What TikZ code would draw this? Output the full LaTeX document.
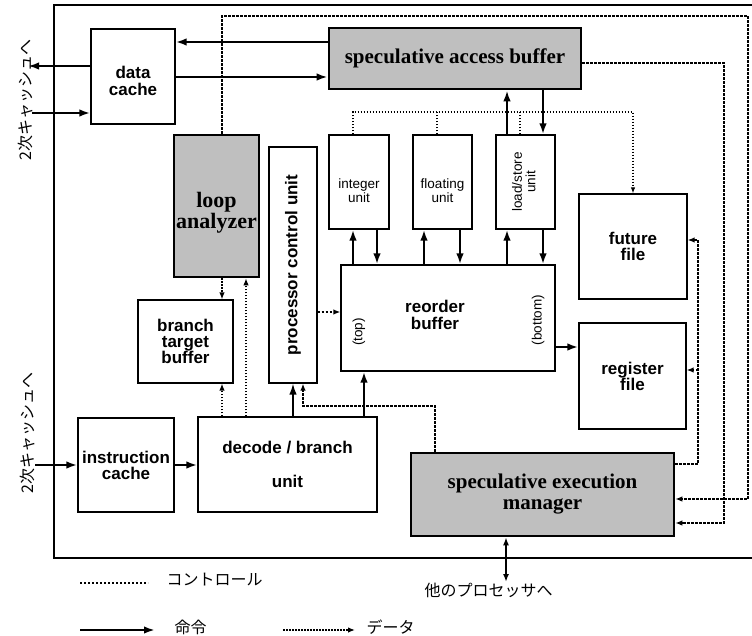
\documentclass[tikz,border=0pt]{standalone}
\usepackage{fontspec}
\setmainfont{Liberation Serif}
\setsansfont{Liberation Sans}
\newfontfamily\jpfont{Noto Sans CJK JP}
\usetikzlibrary{arrows.meta,calc}
\definecolor{screen}{gray}{0.75}
\newcommand{\lowtxt}[2]{\raisebox{-#1}[0pt][0pt]{\begin{tabular}{@{}c@{}}#2\end{tabular}}}

\begin{document}
\begin{tikzpicture}[x=1pt,y=-1pt,
  blk/.style={rectangle,draw,line width=1.2pt,fill=white,inner sep=0pt,align=center,
              font=\sffamily\bfseries\fontsize{17}{16}\selectfont},
  gblk/.style={blk,line width=2.6pt,fill=screen,font=\bfseries\fontsize{21}{21}\selectfont},
  unit/.style={blk,font=\sffamily\fontsize{13.5}{12}\selectfont},
  arr/.style={-{Latex[length=11pt,width=7.5pt]},line width=2.2pt},
  ctl/.style={line width=2.4pt,dash pattern=on 2.4pt off 1.6pt},
  dat/.style={line width=1.3pt,dash pattern=on 1.6pt off 1.4pt},
  tip/.style={-{Latex[length=7pt,width=5.5pt]}},
  jp/.style={font=\jpfont\fontsize{16}{16}\selectfont}
]
\useasboundingbox (0,0) rectangle (752,636);
\draw[line width=2.6pt] (752,5) -- (54,5) -- (54,558) -- (752,558);

% blocks
\node[blk,minimum width=84pt,minimum height=95pt] (dc) at (133,76.5) {\lowtxt{11pt}{data\\cache}};
\node[gblk,minimum width=252pt,minimum height=61pt] (sab) at (455,58.5) {speculative access buffer};
\node[gblk,minimum width=85pt,minimum height=142pt,font=\bfseries\fontsize{22}{19}\selectfont] (la) at (216.5,206) {\lowtxt{12pt}{loop\\analyzer}};
\node[blk,minimum width=48pt,minimum height=236pt] (pcu) at (293,265) {\rotatebox{90}{processor control unit}};
\node[unit,minimum width=60pt,minimum height=94pt] (iu) at (359,182) {\lowtxt{14pt}{integer\\unit}};
\node[unit,minimum width=59pt,minimum height=94pt] (fu) at (442.5,182) {\lowtxt{14pt}{floating\\unit}};
\node[unit,minimum width=59pt,minimum height=94pt] (lsu) at (525.5,182) {\rotatebox{90}{\begin{tabular}{@{}c@{}}load/store\\unit\end{tabular}}};
\node[blk,minimum width=214pt,minimum height=106pt] (rob) at (448,318) {\lowtxt{4pt}{reorder\\buffer}\hspace*{26pt}};
\node[font=\sffamily\fontsize{13.5}{12}\selectfont,rotate=90] (rtop) at (359,332) {(top)};
\node[font=\sffamily\fontsize{13.5}{12}\selectfont,rotate=90] (rbot) at (538,320) {(bottom)};
\node[blk,minimum width=108pt,minimum height=105pt] (ff) at (633,246.5) {future\\file};
\node[blk,minimum width=107pt,minimum height=106pt] (rf) at (632.5,376) {register\\file};
\node[blk,minimum width=95pt,minimum height=83pt] (btb) at (185.5,341.5) {branch\\target\\buffer};
\node[blk,minimum width=96pt,minimum height=94pt] (ic) at (126,465) {instruction\\cache};
\node[blk,minimum width=179pt,minimum height=95pt] (dec) at (287.5,464.5) {decode / branch\\[18pt]unit};
\node[gblk,minimum width=263pt,minimum height=83pt] (sem) at (542.5,494.5) {speculative execution\\manager};

% outside texts
\node[jp,rotate=90] (l2a) at (26,100) {2次キャッシュへ};
\node[jp,rotate=90] (l2b) at (28,433) {2次キャッシュへ};
\node[jp,anchor=west] (op) at (421,590) {他のプロセッサへ};

% data cache, L2 and fetch
\coordinate (l2o) at (28,66);
\coordinate (l2i) at (32,113);
\coordinate (l2c) at (35,465);
\draw[arr] (dc.west |- l2o) -- (l2o);
\draw[arr] (l2i) -- (l2i -| dc.west);
\draw[arr] (sab.west |- 0,42) -- (dc.east |- 0,42);
\draw[arr] (dc.east |- 0,77) -- (sab.west |- 0,77);
\draw[arr] (l2c) -- (l2c -| ic.west);
\draw[arr] (ic.east) -- (ic.east -| dec.west);

% units <-> reorder buffer
\foreach \u/\a/\b in {iu/-6/18,fu/-18.5/17.5,lsu/-18.5/17.5}{
  \draw[arr] ([xshift=\a pt]\u.south |- rob.north) -- ([xshift=\a pt]\u.south);
  \draw[arr] ([xshift=\b pt]\u.south) -- ([xshift=\b pt]\u.south |- rob.north);
}
\draw[arr] ([xshift=-18.5pt]lsu.north) -- ([xshift=-18.5pt]lsu.north |- sab.south);
\draw[arr] ([xshift=17.5pt]lsu.north |- sab.south) -- ([xshift=17.5pt]lsu.north);
\draw[arr] (rob.east |- 0,347) -- (rf.west |- 0,347);

% decode / branch
\draw[arr,line width=1.6pt] (pcu.south |- dec.north) -- (pcu.south);
\draw[arr] (364,0 |- dec.north) -- (364,0 |- rob.south);
\draw[dat,tip] (222,0 |- dec.north) -- (222,0 |- btb.south);
\draw[dat,tip] (246,0 |- dec.north) -- (246,0 |- la.south);
\draw[dat,tip] (222,0 |- la.south) -- (222,0 |- btb.north);

% data bus to future file
\draw[dat,-{Latex[length=6pt,width=4.5pt]}] ([xshift=-6pt]iu.north) |- (ff.north |- 0,112) -- (ff.north);
\draw[dat] ([xshift=-5.5pt]fu.north) -- ++(0,-23);
\draw[dat] ([xshift=-5.5pt]lsu.north) -- ++(0,-23);

% control
\draw[ctl,tip] (pcu.east |- 0,312) -- (rob.west |- 0,312);
\draw[ctl,tip] (435,0 |- sem.north) |- (303,406) -- (303,0 |- pcu.south);
\draw[ctl,tip] (222,0 |- la.north) |- (748,16) |- (sem.east |- 0,499);
\draw[ctl,tip] (sab.east |- 0,63) -| (724,523) -- (sem.east |- 0,523);
\draw[ctl,tip] (sem.east |- 0,464) -| (698,240) -- (ff.east |- 0,240);
\coordinate (rbr) at (698,370);
\draw[ctl,tip] (rbr) -- (rbr -| rf.east);

% other processors
\coordinate (opr) at (506,582);
\draw[{Latex[length=8pt,width=6pt]}-{Latex[length=8pt,width=6pt]},line width=1.6pt] (506,0 |- sem.south) -- (opr);

% legend
\node[jp,anchor=west] (kctl) at (163,580) {コントロール};
\node[jp,anchor=west] (kins) at (171,627) {命令};
\node[jp,anchor=west] (kdat) at (363,627) {データ};
\coordinate (kc1) at (80,583);
\coordinate (kc2) at (148,583);
\coordinate (ki1) at (80,630);
\coordinate (ki2) at (155,630);
\coordinate (kd1) at (283,630);
\coordinate (kd2) at (355,630);
\draw[ctl,line width=2pt] (kc1) -- (kc2);
\draw[arr] (ki1) -- (ki2);
\draw[dat,tip] (kd1) -- (kd2);
\end{tikzpicture}
\end{document}
